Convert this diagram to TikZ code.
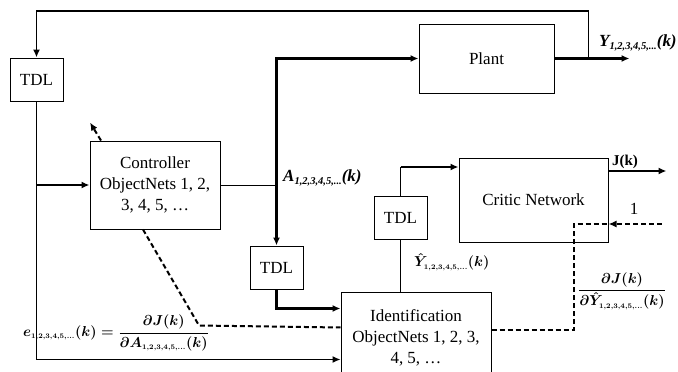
\documentclass[tikz,border=0pt]{standalone}
\usepackage{amsmath, amssymb}
\usepackage{fontspec}
\setmainfont{Liberation Serif}
\usepackage{tikz}
\usetikzlibrary{arrows.meta, positioning}
\newcommand{\subidx}{\raisebox{-3.5pt}{\fontsize{10.5}{11}\selectfont 1,2,3,4,5,...}}
\newcommand{\msub}{{\scriptscriptstyle 1,2,3,4,5,\ldots}}

\begin{document}
\begin{tikzpicture}[
    x=1pt, y=1pt,
    box/.style={
        rectangle, draw, line width=1pt,
        inner sep=0pt, align=center,
        font=\fontsize{17}{21}\selectfont
    },
    tdl/.style={box, minimum width=53pt, minimum height=43pt},
    thinln/.style={line width=1pt},
    thinarr/.style={-{Latex[length=8pt,width=7pt]}, line width=1.2pt},
    thickarr/.style={-{Latex[length=8pt,width=7pt]}, line width=2.2pt},
    dashln/.style={line width=2pt, dash pattern=on 5pt off 3pt},
    dasharr/.style={dashln, -{Latex[length=8pt,width=7pt]}},
    lbl/.style={inner sep=0pt, font=\bfseries\itshape\fontsize{17}{19}\selectfont},
    mlbl/.style={inner sep=0pt, font=\boldmath\fontsize{14}{17}\selectfont}
]
    \useasboundingbox (0,0) rectangle (678,-372);

    % blocks
    \node[tdl] (tdlA) at (36.5,-79.5) {TDL};
    \node[box, minimum width=130pt, minimum height=88pt,
          below right=39pt and 26pt of tdlA] (ctrl) {Controller\\ObjectNets 1, 2,\\3, 4, 5, \dots};
    \node[box, minimum width=135pt, minimum height=69pt,
          above right=47pt and 198pt of ctrl] (plant) {Plant};
    \node[tdl, below right=16pt and 29pt of ctrl] (tdlB) {TDL};
    \node[box, minimum width=150pt, minimum height=91pt,
          below right=2pt and 37pt of tdlB] (ident) {Identification\\ObjectNets 1, 2, 3,\\4, 5, \dots};
    \node[tdl, above right=6pt and 70pt of tdlB] (tdlC) {TDL};
    \node[box, minimum width=149pt, minimum height=84pt,
          right=31pt of tdlC, yshift=17.5pt] (critic) {Critic Network};

    % free ends
    \coordinate (fb)    at ([xshift=34pt]plant.east);
    \coordinate (yout)  at ([xshift=75pt]plant.east);
    \coordinate (cin)   at ([yshift=33pt]critic.west);
    \coordinate (jout)  at ([xshift=58pt,yshift=29pt]critic.east);
    \coordinate (one)   at ([xshift=53pt,yshift=-24pt]critic.east);
    \coordinate (ctrlup) at ([xshift=-65pt,yshift=18pt]ctrl.north);

    % plant loop
    \draw[thickarr] (plant.east) -- (yout);
    \draw[thinarr, line width=1.7pt] (fb) -- ++(0,47.5) -| (tdlA.north);
    \draw[thinarr] (tdlA.south) |- ([yshift=-22pt]ident.west);
    \draw[thickarr] (tdlA.south |- ctrl.west) -- (ctrl.west);

    % control signal
    \draw[thinln] (ctrl.east) -- (ctrl.east -| tdlB.north);
    \draw[{Latex[length=8pt,width=7pt]}-{Latex[length=8pt,width=7pt]}, line width=2.2pt]
        (tdlB.north) |- (plant.west);
    \draw[thickarr] (tdlB.south) |- ([yshift=29pt]ident.west);

    % critic
    \draw[thinln] (ident.north -| tdlC.south) -- (tdlC.south);
    \draw[thinln] (tdlC.north) -- (tdlC.north |- cin);
    \draw[thickarr] (tdlC.north |- cin) -- (cin);
    \draw[thickarr] ([yshift=29pt]critic.east) -- (jout);

    % back-propagated signals
    \draw[dasharr] (one) -- ([yshift=-24pt]critic.east);
    \draw[dashln] ([yshift=7.5pt]ident.east) -| ([xshift=-35pt,yshift=-24pt]critic.east)
        -- ([yshift=-24pt]critic.east);
    \draw[dashln] ([xshift=-12pt]ctrl.south) -- ++(56,-96) -- ([yshift=10pt]ident.west);
    \draw[dasharr] ([xshift=-54pt]ctrl.north) -- (ctrlup);

    % labels
    \node[lbl, anchor=west] (ylbl) at (599,-43) {Y\subidx(k)};
    \node[lbl, anchor=west] (albl) at (283,-178) {A\subidx(k)};
    \node[font=\bfseries\fontsize{15}{18}\selectfont, inner sep=0pt] (jlbl) at (625,-162) {J(k)};
    \node[font=\fontsize{17}{20}\selectfont, inner sep=0pt] (onelbl) at (634,-209) {1};
    \node[mlbl, anchor=west] (yhlbl) at (414,-262) {$\hat{Y}_\msub(k)$};
    \node[mlbl] (dylbl) at (622,-291) {$\dfrac{\partial J(k)}{\partial \hat{Y}_\msub(k)}$};
    \node[mlbl, anchor=east] (elbl) at (209,-333) {$e_\msub(k)=\dfrac{\partial J(k)}{\partial A_\msub(k)}$};
\end{tikzpicture}
\end{document}
